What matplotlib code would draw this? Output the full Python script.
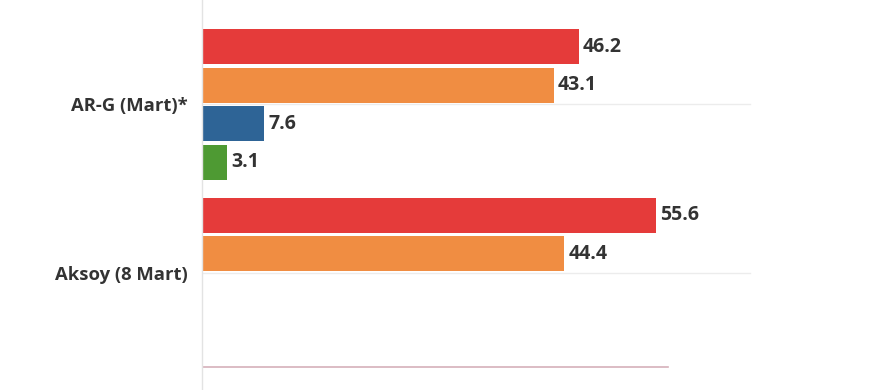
import matplotlib
matplotlib.use("Agg")
import matplotlib.pyplot as plt

plt.rcParams['font.family'] = ['Open Sans', 'DejaVu Sans']

categories = ['AR-G (Mart)*', 'Aksoy (8 Mart)']
# values per category, in drawing order top to bottom
values = [[46.2, 43.1, 7.6, 3.1],
          [55.6, 44.4]]
colors = ['#e53b3a', '#f08d42', '#2e6496', '#4e9a33']

group_gap = 4.38   # distance between category centres, in bar slots
bar_h = 0.91

fig = plt.figure(figsize=(8.88, 3.90), dpi=100)
ax = fig.add_axes([202 / 888, 0, 1 - 202 / 888, 1])

centres = [i * group_gap for i in range(len(categories))]
for c, vals in zip(centres, values):
    for j, v in enumerate(vals):
        y = c - 1.5 + j
        ax.barh(y, v, height=bar_h, color=colors[j], zorder=2)
        ax.text(v + 0.5, y, f'{v:.1f}', va='center', ha='left',
                fontsize=14, fontweight='bold', color='#333333')

# faint gridlines at category centres
for c in centres:
    ax.plot([0, 67.2], [c, c], color='#ececec', lw=1, zorder=1)

# bottom rule
ax.plot([0, 57.1], [6.82, 6.82], color='#d6b0ba', lw=1.2, zorder=1)

ax.set_xlim(0, 84.1)
ax.set_ylim(7.42, -2.71)
ax.set_yticks(centres)
ax.set_yticklabels(categories, fontsize=13.3, fontweight='bold', color='#333333')
ax.tick_params(axis='y', length=0, pad=10)
ax.set_xticks([])
for s in ['top', 'right', 'bottom']:
    ax.spines[s].set_visible(False)
ax.spines['left'].set_color('#e3e3e3')
ax.spines['left'].set_linewidth(1)

fig.savefig('out.png', dpi=100)
